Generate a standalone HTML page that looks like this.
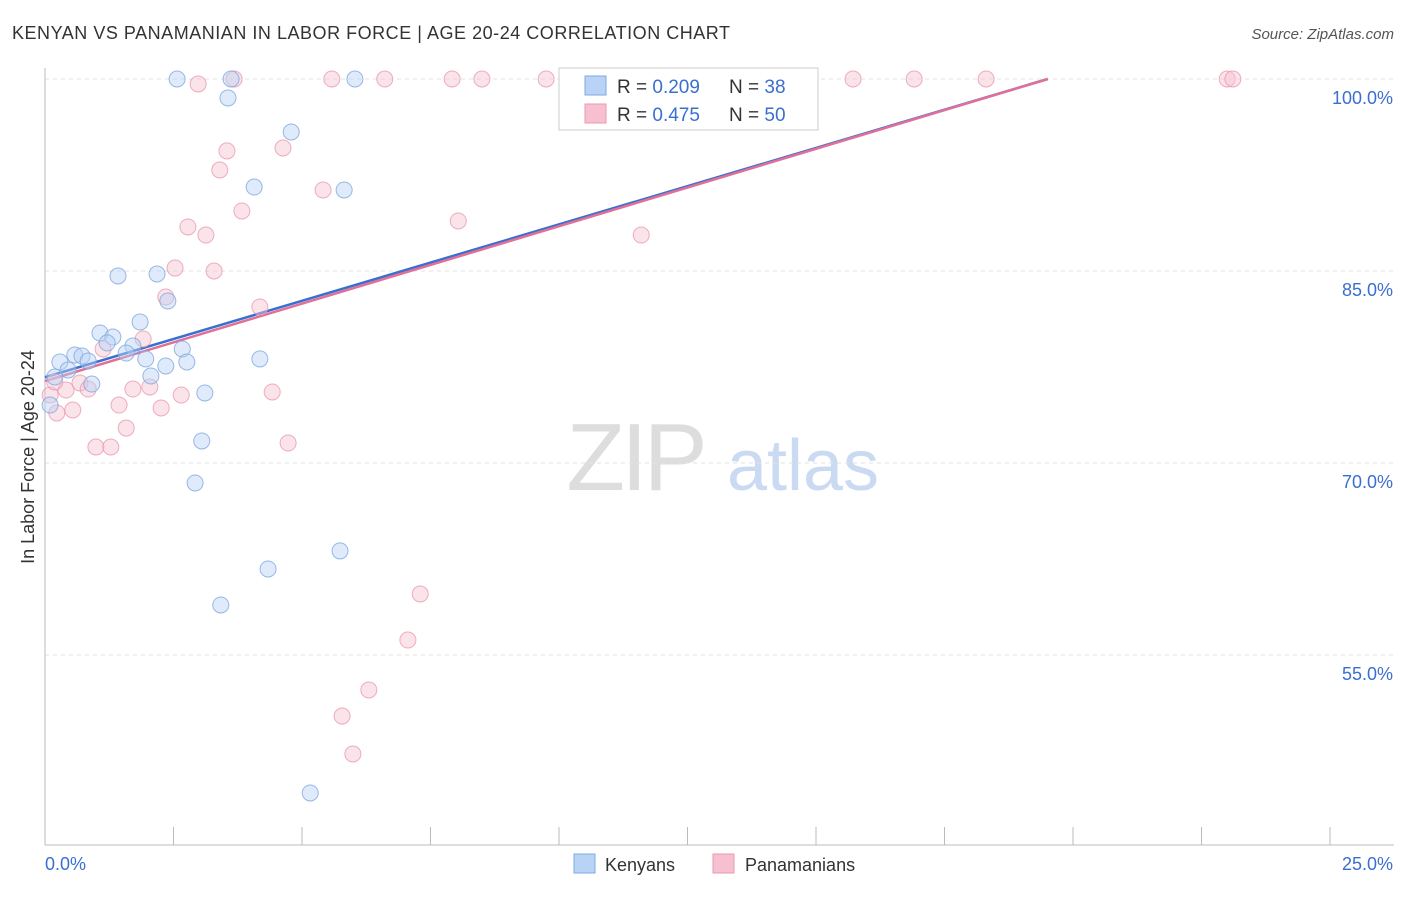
<!DOCTYPE html>
<html><head><meta charset="utf-8">
<style>
body{margin:0;background:#fff;font-family:"Liberation Sans",sans-serif;}
svg text{font-family:"Liberation Sans",sans-serif;}
</style></head>
<body>
<svg id="chart" width="1406" height="892" xmlns="http://www.w3.org/2000/svg">
<text x="12" y="39" font-size="18" fill="#333" textLength="718" lengthAdjust="spacing">KENYAN VS PANAMANIAN IN LABOR FORCE | AGE 20-24 CORRELATION CHART</text>
<text x="1394" y="39" font-size="15" fill="#555" font-style="italic" text-anchor="end">Source: ZipAtlas.com</text>
<g>
<text x="635" y="490" font-size="96" fill="#ddd" text-anchor="middle" font-family="Liberation Serif" letter-spacing="-4">ZIP</text>
<text x="803" y="490" font-size="72" fill="#c9daf2" text-anchor="middle">atlas</text>
</g>
<g id="grid"></g>
<g id="axes"></g>
<g id="lines"></g>
<g id="points"></g>
<text transform="translate(34,457) rotate(-90)" font-size="18" fill="#333" text-anchor="middle">In Labor Force | Age 20-24</text>
<g>
<rect x="559" y="68" width="259" height="62" fill="#fff" stroke="#ccc"/>
<rect x="585" y="76" width="21" height="19" fill="#b8d3f5" stroke="#7fa8e0"/>
<rect x="585" y="104" width="21" height="19" fill="#f7c0d0" stroke="#e89ab0"/>
<text x="617" y="93" font-size="19" fill="#333">R = <tspan fill="#3a6fd0">0.209</tspan></text>
<text x="729" y="93" font-size="19" fill="#333">N = <tspan fill="#3a6fd0">38</tspan></text>
<text x="617" y="121" font-size="19" fill="#333">R = <tspan fill="#3a6fd0">0.475</tspan></text>
<text x="729" y="121" font-size="19" fill="#333">N = <tspan fill="#3a6fd0">50</tspan></text>
</g>
<g>
<rect x="574" y="854" width="21" height="19" fill="#b8d3f5" stroke="#7fa8e0"/>
<text x="605" y="871" font-size="18" fill="#333">Kenyans</text>
<rect x="713" y="854" width="21" height="19" fill="#f7c0d0" stroke="#e89ab0"/>
<text x="745" y="871" font-size="18" fill="#333">Panamanians</text>
</g>
</svg>
<script>
const yTicks=[55,70,85,100];
const yTickLabels=["55.0%","70.0%","85.0%","100.0%"];
const xTicks=[0,2.5,5,7.5,10,12.5,15,17.5,20,22.5,25];
const kenX=[2.57,3.62,6.03,10.35,3.56,4.79,4.07,5.82,1.42,2.18,2.39,1.85,1.07,1.32,1.21,1.71,0.58,0.72,0.29,0.84,1.58,2.67,1.96,2.35,2.76,4.18,0.45,0.19,2.06,0.91,3.11,3.05,2.92,5.74,4.34,3.42,5.16,0.10];
const kenY=[100,100,100,100,98.52,95.86,91.56,91.33,84.61,84.77,82.66,81.02,80.16,79.84,79.38,79.14,78.44,78.36,77.89,77.97,78.59,78.91,78.13,77.58,77.89,78.13,77.27,76.72,76.80,76.17,75.47,71.72,68.44,63.13,61.72,58.91,44.22,74.53];
const panX=[2.98,3.68,5.58,6.61,7.92,8.50,9.75,14.63,15.72,16.91,18.31,23.00,23.11,3.54,4.63,3.40,5.41,3.83,8.04,2.78,3.13,11.60,2.53,3.29,2.35,4.18,1.91,1.13,0.68,0.41,1.71,2.04,0.84,1.44,2.26,2.65,4.42,0.54,0.23,1.58,0.99,1.28,4.73,7.30,7.06,6.30,5.78,5.99,0.10,0.19];
const panY=[99.61,100,100,100,100,100,100,100,100,100,100,100,100,94.38,94.61,92.89,91.33,89.69,88.91,88.44,87.81,87.81,85.23,85.0,82.97,82.19,79.69,78.91,76.25,75.70,75.78,75.94,75.78,74.53,74.30,75.31,75.55,74.14,73.91,72.73,71.25,71.25,71.56,59.77,56.17,52.27,50.23,47.27,75.31,76.33];
const kenTrend=[76.7,100];
const panTrend=[76.4,100];
const trendEnd=[19.51,19.51];

const NS="http://www.w3.org/2000/svg";
const X=v=>45+v*51.4, Y=v=>79+(100-v)*12.8;
function mk(tag,attrs,parent){const e=document.createElementNS(NS,tag);for(const k in attrs)e.setAttribute(k,attrs[k]);document.getElementById(parent).appendChild(e);return e;}
yTicks.forEach((t,i)=>{
  const l=mk('line',{x1:45,x2:1394,y1:Y(t),y2:Y(t),stroke:'#e2e2e2','stroke-dasharray':'4,4'},'grid');
  
  
  const tx=mk('text',{x:1393,y:Y(t)+25,'font-size':18,fill:'#3a6fd0','text-anchor':'end'},'axes');
  tx.textContent=yTickLabels[i];
  
  
});
const ax=mk('line',{x1:45,x2:45,y1:68,y2:845,stroke:'#bbb'},'axes');


const bx=mk('line',{x1:45,x2:1394,y1:845,y2:845,stroke:'#bbb'},'axes');


xTicks.forEach(t=>{
  const l=mk('line',{x1:X(t),x2:X(t),y1:827,y2:845,stroke:'#bbb'},'axes');
  
  
});
const x0=mk('text',{x:45,y:870,'font-size':18,fill:'#3a6fd0'},'axes');x0.textContent='0.0%';


const x1=mk('text',{x:1393,y:870,'font-size':18,fill:'#3a6fd0','text-anchor':'end'},'axes');x1.textContent='25.0%';



function pts(xs,ys,fill,stroke,name){
  xs.forEach((v,i)=>{
    const c=mk('circle',{cx:X(v),cy:Y(ys[i]),r:8,fill:fill,'fill-opacity':0.45,stroke:stroke,'stroke-opacity':0.8,'stroke-width':1},'points');
    
    
  });
}
pts(panX,panY,'#f7c0d0','#e89ab0','panamanian-point');
pts(kenX,kenY,'#b8d3f5','#7fa8e0','kenyan-point');
const lk=mk('line',{x1:X(0),y1:Y(kenTrend[0]),x2:X(trendEnd[0]),y2:Y(kenTrend[1]),stroke:'#3a6fd0','stroke-width':2.5},'lines');


const lp=mk('line',{x1:X(0),y1:Y(panTrend[0]),x2:X(trendEnd[1]),y2:Y(panTrend[1]),stroke:'#e07098','stroke-width':2.5},'lines');


</script>
</body></html>
